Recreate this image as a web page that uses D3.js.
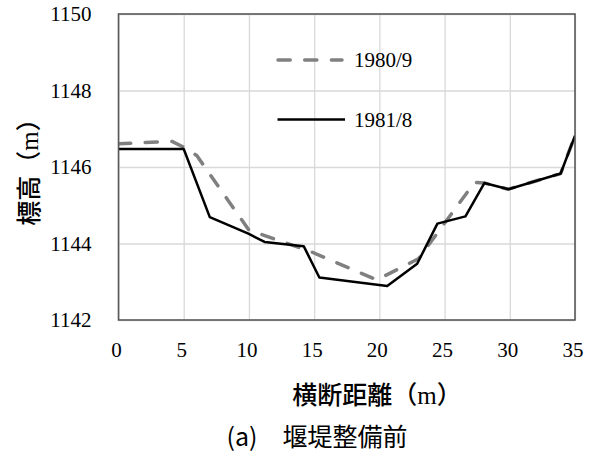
<!DOCTYPE html>
<html>
<head>
<meta charset="utf-8">
<script src="https://cdn.jsdelivr.net/npm/d3@7"></script>
<style>
  html, body { margin: 0; padding: 0; background: #fff; }
  svg { display: block; }
</style>
</head>
<body>
<svg id="chart" width="592" height="454"></svg>
<script>
// Cross-section survey: distance across the channel (m) vs. elevation (m)
const xTicks = [0, 5, 10, 15, 20, 25, 30, 35];
const yTicks = [1142, 1144, 1146, 1148, 1150];

const series1980Label = "1980/9";
const series1980Dist = [0, 4.1, 5.1, 6.0, 10.0, 14.8, 19.8, 23.0, 27.3, 28.05, 29.9, 33.9, 35];
const series1980Elev = [1146.61, 1146.67, 1146.5, 1146.3, 1144.35, 1143.78, 1143.05, 1143.6, 1145.6, 1145.58, 1145.42, 1145.83, 1146.82];

const series1981Label = "1981/8";
const series1981Dist = [0, 5.0, 7.0, 10.0, 11.2, 14.2, 15.4, 20.6, 22.9, 24.45, 26.6, 28.05, 29.9, 33.9, 35];
const series1981Elev = [1146.47, 1146.47, 1144.69, 1144.25, 1144.04, 1143.93, 1143.11, 1142.89, 1143.47, 1144.52, 1144.71, 1145.58, 1145.42, 1145.83, 1146.82];

const xTitle = "横断距離";
const yTitle = "標高";
const unitText = "m";
const caption = "(a)\u3000堰堤整備前";

const SERIF = "Liberation Serif, Times New Roman, serif";
const CJK = "Noto Sans CJK JP, Noto Sans, sans-serif";

const svg = d3.select("#chart");
const plot = { left: 118.5, right: 575, top: 14, bottom: 320 };

const x = d3.scaleLinear().domain([0, 35]).range([plot.left, plot.right]);
const y = d3.scaleLinear().domain([1142, 1150]).range([plot.bottom, plot.top]);

// gridlines
svg.append("g")
  .attr("transform", `translate(0,${plot.bottom})`)
  .call(d3.axisBottom(x).tickValues(xTicks).tickSize(-(plot.bottom - plot.top)).tickFormat(""))
  .call(g => g.select(".domain").remove())
  .call(g => g.selectAll("line").attr("stroke", "#d9d9d9").attr("stroke-width", 1.3));
svg.append("g")
  .attr("transform", `translate(${plot.left},0)`)
  .call(d3.axisLeft(y).tickValues(yTicks).tickSize(-(plot.right - plot.left)).tickFormat(""))
  .call(g => g.select(".domain").remove())
  .call(g => g.selectAll("line").attr("stroke", "#d9d9d9").attr("stroke-width", 1.3));

// tick labels (serif numerals), placed from the scales
svg.append("g")
  .selectAll("text")
  .data(yTicks)
  .join("text")
  .attr("x", plot.left - 27)
  .attr("y", d => y(d))
  .attr("dy", "0.34em")
  .attr("text-anchor", "end")
  .attr("font-family", SERIF).attr("font-size", 21).attr("fill", "#000")
  .text(d => String(d));
svg.append("g")
  .selectAll("text")
  .data(xTicks)
  .join("text")
  .attr("x", d => x(d) - 2)
  .attr("y", plot.bottom + 37)
  .attr("text-anchor", "middle")
  .attr("font-family", SERIF).attr("font-size", 21).attr("fill", "#000")
  .text(d => String(d));

// series
const line = d3.line().x(d => x(d[0])).y(d => y(d[1]));
const pts1980 = series1980Dist.map((d, i) => [d, series1980Elev[i]]);
const pts1981 = series1981Dist.map((d, i) => [d, series1981Elev[i]]);

svg.append("clipPath").attr("id", "plotClip")
  .append("rect").attr("x", plot.left).attr("y", plot.top)
  .attr("width", plot.right - plot.left).attr("height", plot.bottom - plot.top);

const dashStyle = { stroke: "#808080", width: 3.5, dash: "12.2,14.5" };

svg.append("path").datum(pts1980)
  .attr("clip-path", "url(#plotClip)")
  .attr("d", line).attr("fill", "none")
  .attr("stroke", dashStyle.stroke).attr("stroke-width", dashStyle.width)
  .attr("stroke-dasharray", dashStyle.dash).attr("stroke-linecap", "round")
  .attr("stroke-linejoin", "round");
svg.append("path").datum(pts1981)
  .attr("clip-path", "url(#plotClip)")
  .attr("d", line).attr("fill", "none")
  .attr("stroke", "#000").attr("stroke-width", 2.5)
  .attr("stroke-linejoin", "round");

// plot frame
svg.append("rect")
  .attr("x", plot.left).attr("y", plot.top)
  .attr("width", plot.right - plot.left).attr("height", plot.bottom - plot.top)
  .attr("fill", "none").attr("stroke", "#595959").attr("stroke-width", 1.6);

// legend
const legend = svg.append("g");
const legendItems = [
  { label: series1980Label, y: 60, stroke: dashStyle.stroke, width: dashStyle.width, dash: dashStyle.dash, cap: "round" },
  { label: series1981Label, y: 119.5, stroke: "#000", width: 2.5, dash: null, cap: "butt" }
];
legendItems.forEach(it => {
  legend.append("line")
    .attr("x1", it.dash ? 278 : 277.5).attr("x2", it.dash ? 342 : 345)
    .attr("y1", it.y).attr("y2", it.y)
    .attr("stroke", it.stroke).attr("stroke-width", it.width)
    .attr("stroke-dasharray", it.dash).attr("stroke-linecap", it.cap);
  legend.append("text")
    .attr("x", 354).attr("y", it.y).attr("dy", "0.34em")
    .attr("font-family", SERIF).attr("font-size", 21).attr("fill", "#000")
    .text(it.label);
});

// axis titles
const yT = svg.append("text")
  .attr("transform", "translate(37.5,166) rotate(-90)")
  .attr("text-anchor", "middle")
  .attr("font-size", 25).attr("fill", "#000");
yT.append("tspan").attr("font-family", CJK).attr("font-weight", 500).text(yTitle + "（");
yT.append("tspan").attr("font-family", SERIF).text(unitText);
yT.append("tspan").attr("font-family", CJK).attr("font-weight", 500).text("）");

const xT = svg.append("text")
  .attr("x", 377).attr("y", 404)
  .attr("text-anchor", "middle")
  .attr("font-size", 25).attr("fill", "#000");
xT.append("tspan").attr("font-family", CJK).attr("font-weight", 500).text(xTitle + "（");
xT.append("tspan").attr("font-family", SERIF).text(unitText);
xT.append("tspan").attr("font-family", CJK).attr("font-weight", 500).text("）");

// figure caption
svg.append("text")
  .attr("x", 317).attr("y", 446)
  .attr("text-anchor", "middle")
  .attr("font-family", CJK).attr("font-size", 25).attr("font-weight", 400).attr("fill", "#000")
  .text(caption);
</script>
</body>
</html>
